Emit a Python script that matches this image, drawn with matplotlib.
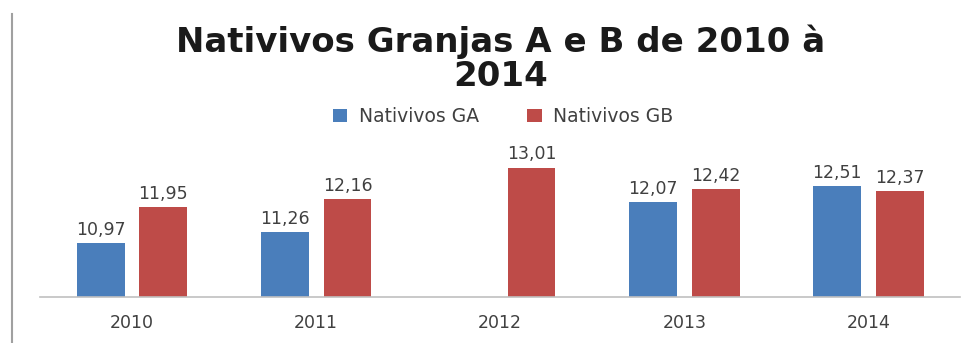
import matplotlib.pyplot as plt
import numpy as np
from matplotlib.lines import Line2D

# Data
years = ["2010", "2011", "2012", "2013", "2014"]
nativos_ga = [10.97, 11.26, np.nan, 12.07, 12.51]
nativos_gb = [11.95, 12.16, 13.01, 12.42, 12.37]

blue = "#4a7ebb"
red = "#be4b48"
txt = "#404040"

fig = plt.figure(figsize=(9.77, 3.43), dpi=100)
ax = fig.add_axes([0.041, 0.134, 0.942, 0.43])

x = np.arange(len(years))
width = 0.26
offset = 0.17

bars_ga = ax.bar(x - offset, nativos_ga, width, color=blue, label="Nativivos GA")
bars_gb = ax.bar(x + offset, nativos_gb, width, color=red, label="Nativivos GB")

# Value labels with comma decimals
for bars, vals in [(bars_ga, nativos_ga), (bars_gb, nativos_gb)]:
    for b, v in zip(bars, vals):
        if np.isnan(v):
            continue
        ax.annotate(f"{v:.2f}".replace(".", ","),
                    xy=(b.get_x() + b.get_width() / 2, v),
                    xytext=(0, 3), textcoords="offset points",
                    ha="center", va="bottom", fontsize=12.5,
                    color=txt, family="DejaVu Sans")

ax.set_ylim(9.5, 13.5)
ax.set_xlim(-0.5, len(years) - 0.5)
ax.set_xticks(x)
ax.set_xticklabels(years, fontsize=12.5, color=txt, family="DejaVu Sans")
ax.tick_params(axis="x", length=0, pad=12)
ax.set_yticks([])

for side in ["top", "right", "left"]:
    ax.spines[side].set_visible(False)
ax.spines["bottom"].set_color("#c0c0c0")
ax.spines["bottom"].set_linewidth(1.2)

# Title
fig.text(0.512, 0.828, "Nativivos Granjas A e B de 2010 à\n2014",
         ha="center", va="center", fontsize=24.5, fontweight="bold",
         family="DejaVu Sans", color="#1a1a1a", linespacing=1.05)

# Legend
leg = fig.legend(loc="center", bbox_to_anchor=(0.515, 0.66), ncol=2,
                 frameon=False, handlelength=0.75, handleheight=0.75,
                 columnspacing=2.6, handletextpad=0.6,
                 prop={"family": "DejaVu Sans", "size": 13.5})
for t in leg.get_texts():
    t.set_color(txt)

# Left border line
fig.add_artist(Line2D([0.012, 0.012], [0.0, 0.96], color="#a0a0a0", lw=1.5))

fig.savefig("out.png", dpi=100, facecolor="white")
